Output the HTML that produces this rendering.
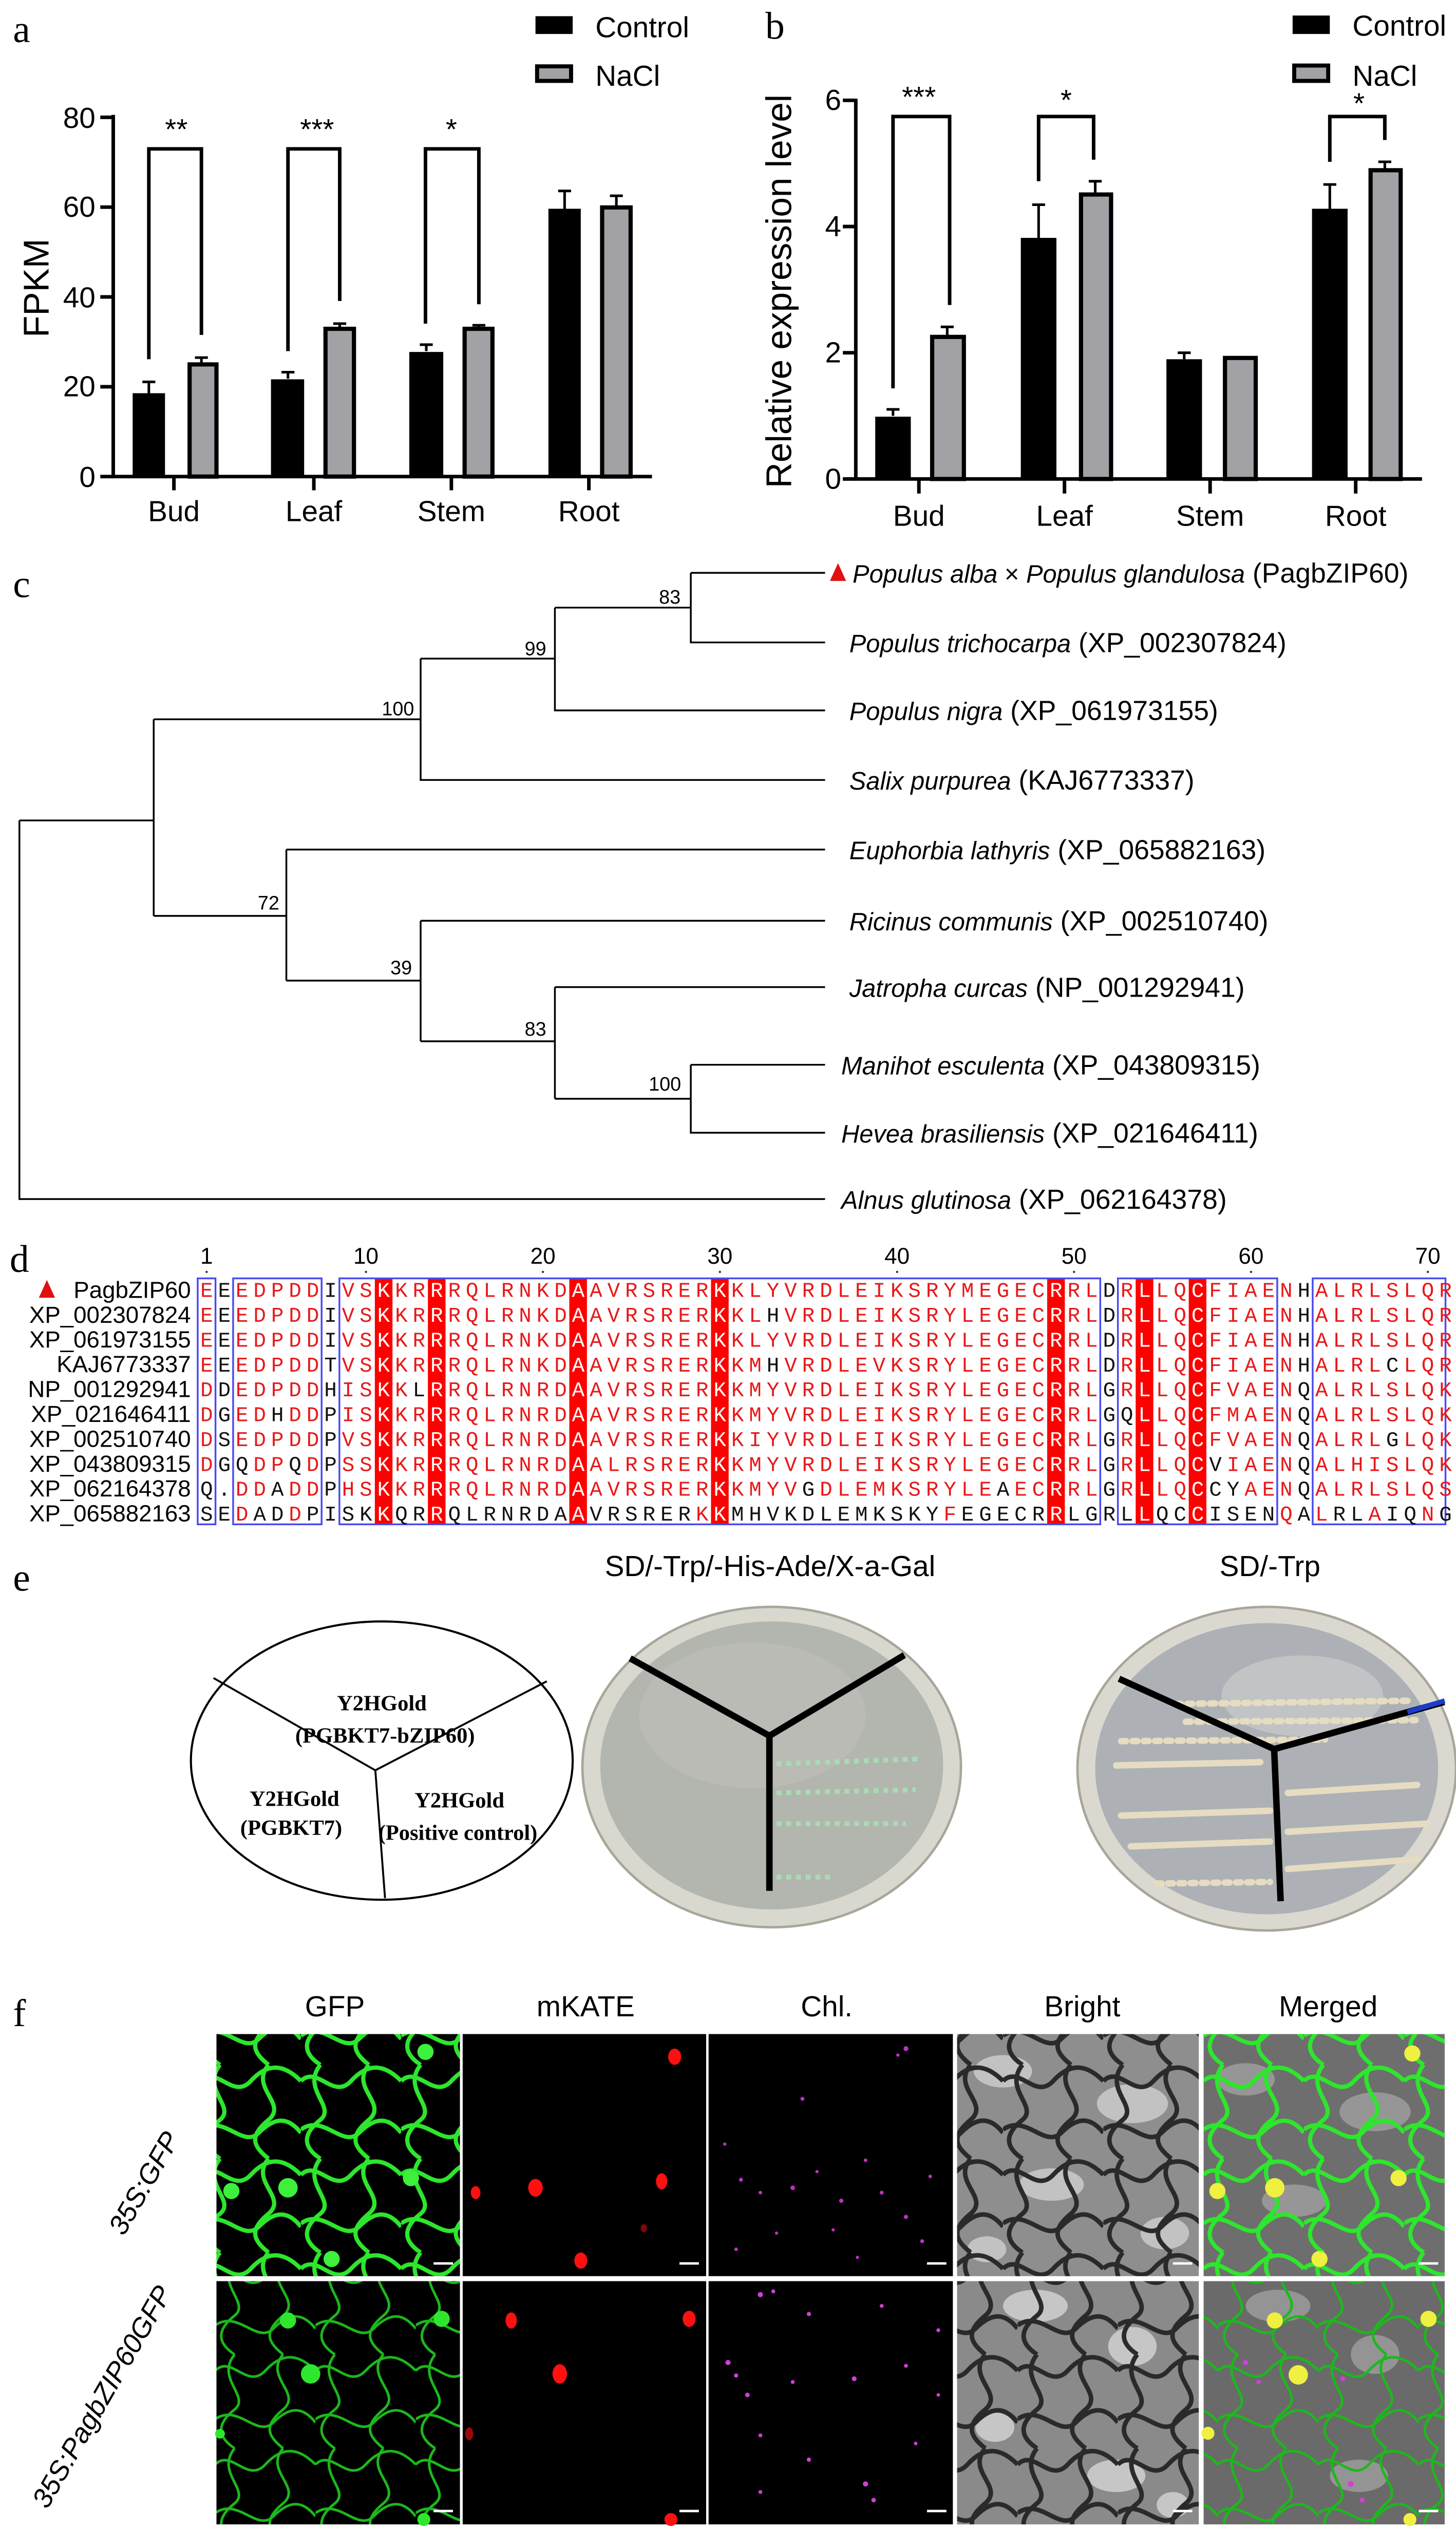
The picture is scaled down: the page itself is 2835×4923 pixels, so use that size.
<!DOCTYPE html>
<html><head><meta charset="utf-8">
<style>
html,body{margin:0;padding:0;background:#fff;}
svg{display:block;}
.sn{font-family:"Liberation Sans Narrow","Liberation Sans",sans-serif;}
.s{font-family:"Liberation Sans",sans-serif;}
.sf{font-family:"Liberation Serif",serif;}
.mono{font-family:"Liberation Mono",monospace;font-size:13px;letter-spacing:3.14px;fill:#e8191a;}
.k{fill:#111;}
.w{fill:#fff;}
</style></head>
<body>
<svg width="2835" height="4923" viewBox="0 0 900 1562.86" xmlns="http://www.w3.org/2000/svg">
<defs>
<pattern id="cellG" width="62" height="58" patternUnits="userSpaceOnUse">
<path d="M0,10 C10,0 20,22 31,10 S52,0 62,10 M12,0 C0,15 22,26 12,34 S0,50 12,58 M42,0 C30,14 54,24 42,34 S32,50 42,58 M0,40 C14,30 26,52 36,42 S54,32 62,42" fill="none" stroke="#2de62d" stroke-width="2.6"/>
</pattern>
<pattern id="cellG2" width="62" height="58" patternUnits="userSpaceOnUse" patternTransform="translate(9,5)">
<path d="M0,10 C10,0 20,22 31,10 S52,0 62,10 M12,0 C0,15 22,26 12,34 S0,50 12,58 M42,0 C30,14 54,24 42,34 S32,50 42,58 M0,40 C14,30 26,52 36,42 S54,32 62,42" fill="none" stroke="#1cb81c" stroke-width="1.6"/>
</pattern>
<pattern id="cellD" width="62" height="58" patternUnits="userSpaceOnUse">
<path d="M0,10 C10,0 20,22 31,10 S52,0 62,10 M12,0 C0,15 22,26 12,34 S0,50 12,58 M42,0 C30,14 54,24 42,34 S32,50 42,58 M0,40 C14,30 26,52 36,42 S54,32 62,42" fill="none" stroke="#2a2a2a" stroke-width="2.8"/>
</pattern>
<pattern id="cellD2" width="62" height="58" patternUnits="userSpaceOnUse" patternTransform="translate(9,5)">
<path d="M0,10 C10,0 20,22 31,10 S52,0 62,10 M12,0 C0,15 22,26 12,34 S0,50 12,58 M42,0 C30,14 54,24 42,34 S32,50 42,58 M0,40 C14,30 26,52 36,42 S54,32 62,42" fill="none" stroke="#2a2a2a" stroke-width="2.8"/>
</pattern>
</defs>

<!-- ===== Panel a ===== -->
<text x="8" y="26" class="sf" font-size="24">a</text>
<rect x="331" y="10" width="23" height="11" fill="#000"/>
<text x="368" y="23" class="sn" font-size="18">Control</text>
<rect x="332" y="41" width="21" height="9" fill="#a2a2a6" stroke="#000" stroke-width="2.5"/>
<text x="368" y="53" class="sn" font-size="18">NaCl</text>
<g stroke="#000" stroke-width="2.2" fill="none">
<line x1="70" y1="71" x2="70" y2="295.5"/>
<line x1="69" y1="294.5" x2="403" y2="294.5"/>
<line x1="62" y1="72.5" x2="70" y2="72.5"/><line x1="62" y1="128" x2="70" y2="128"/><line x1="62" y1="183.5" x2="70" y2="183.5"/><line x1="62" y1="239" x2="70" y2="239"/><line x1="62" y1="294.5" x2="70" y2="294.5"/>
<line x1="107.5" y1="294.5" x2="107.5" y2="303"/><line x1="194" y1="294.5" x2="194" y2="303"/><line x1="279" y1="294.5" x2="279" y2="303"/><line x1="364" y1="294.5" x2="364" y2="303"/>
</g>
<g class="sn" font-size="18" text-anchor="end">
<text x="59" y="79">80</text><text x="59" y="134">60</text><text x="59" y="190">40</text><text x="59" y="245">20</text><text x="59" y="301">0</text>
</g>
<g class="sn" font-size="18" text-anchor="middle">
<text x="107.5" y="322">Bud</text><text x="194" y="322">Leaf</text><text x="279" y="322">Stem</text><text x="364" y="322">Root</text>
</g>
<text transform="translate(30,178) rotate(-90)" class="s" font-size="22" text-anchor="middle">FPKM</text>
<g fill="#000">
<rect x="82" y="243" width="20" height="51.5"/><rect x="167.5" y="234.4" width="20.5" height="60"/><rect x="253" y="217.5" width="21" height="77"/><rect x="339" y="129" width="20" height="165.5"/>
</g>
<g fill="#a2a2a6" stroke="#000" stroke-width="2.6">
<rect x="117.2" y="225.2" width="16.6" height="69.3"/><rect x="201.2" y="203.2" width="17.6" height="91.3"/><rect x="287.2" y="203.2" width="17.2" height="91.3"/><rect x="372.2" y="128.2" width="17.6" height="166.3"/>
</g>
<g stroke="#000" stroke-width="1.6" fill="none">
<path d="M92,243V236M88,236H96"/><path d="M124.5,224V221M120.5,221H128.5"/>
<path d="M178,234V230M174,230H182"/><path d="M210,202V200M206,200H214"/>
<path d="M263.5,217V213M259.5,213H267.5"/><path d="M296,202V201M292,201H300"/>
<path d="M349,129V118M345,118H353"/><path d="M381,127V121M377,121H385"/>
</g>
<g stroke="#000" stroke-width="2.2" fill="none">
<path d="M92,222V92H124.5V207"/><path d="M178,217V92H210V186"/><path d="M263,200V92H296V188"/>
</g>
<g class="s" font-size="18" text-anchor="middle">
<text x="109" y="86">**</text><text x="196" y="86">***</text><text x="279" y="86">*</text>
</g>

<!-- ===== Panel b ===== -->
<text x="473" y="24" class="sf" font-size="24">b</text>
<rect x="799" y="9.6" width="23" height="11.4" fill="#000"/>
<text x="836" y="22" class="sn" font-size="18">Control</text>
<rect x="800" y="40.5" width="21" height="9.5" fill="#a2a2a6" stroke="#000" stroke-width="2.5"/>
<text x="836" y="53" class="sn" font-size="18">NaCl</text>
<g stroke="#000" stroke-width="2.2" fill="none">
<line x1="529" y1="61" x2="529" y2="297"/>
<line x1="528" y1="296" x2="879" y2="296"/>
<line x1="521" y1="62" x2="529" y2="62"/><line x1="521" y1="140" x2="529" y2="140"/><line x1="521" y1="218" x2="529" y2="218"/><line x1="521" y1="296" x2="529" y2="296"/>
<line x1="568" y1="296" x2="568" y2="305"/><line x1="658" y1="296" x2="658" y2="305"/><line x1="748" y1="296" x2="748" y2="305"/><line x1="838" y1="296" x2="838" y2="305"/>
</g>
<g class="sn" font-size="18" text-anchor="end">
<text x="520" y="68">6</text><text x="520" y="146">4</text><text x="520" y="224">2</text><text x="520" y="302">0</text>
</g>
<g class="sn" font-size="18" text-anchor="middle">
<text x="568" y="325">Bud</text><text x="658" y="325">Leaf</text><text x="748" y="325">Stem</text><text x="838" y="325">Root</text>
</g>
<text transform="translate(489,180) rotate(-90)" class="s" font-size="22" text-anchor="middle">Relative expression level</text>
<g fill="#000">
<rect x="541" y="257.5" width="22" height="38.5"/><rect x="631" y="147" width="22" height="149"/><rect x="721" y="222" width="22" height="74"/><rect x="811" y="129" width="22" height="167"/>
</g>
<g fill="#a2a2a6" stroke="#000" stroke-width="2.6">
<rect x="576.2" y="208.2" width="19.6" height="87.8"/><rect x="668.2" y="120.2" width="18.6" height="175.8"/><rect x="757.2" y="221.2" width="19" height="74.8"/><rect x="847.2" y="105.2" width="18.6" height="190.8"/>
</g>
<g stroke="#000" stroke-width="1.6" fill="none">
<path d="M552,257V253M548,253H556"/><path d="M585.5,207V202M581.5,202H589.5"/>
<path d="M642,147V126.5M638,126.5H646"/><path d="M677,119V112M673,112H681"/>
<path d="M732,222V218M728,218H736"/>
<path d="M822,129V114M818,114H826"/><path d="M856,104V100M852,100H860"/>
</g>
<g stroke="#000" stroke-width="2.2" fill="none">
<path d="M552,240V72H587V188.5"/><path d="M642,112V72H676V98.7"/><path d="M822,100V72H856V86.5"/>
</g>
<g class="s" font-size="18" text-anchor="middle">
<text x="568" y="66">***</text><text x="659" y="68">*</text><text x="840" y="70">*</text>
</g>

<!-- ===== Panel c (tree) ===== -->
<text x="8" y="369" class="sf" font-size="24">c</text>
<g stroke="#000" stroke-width="1.1" fill="none">
<path d="M12,507V741H510M12,507H95"/>
<path d="M95,444.5V566"/>
<path d="M95,444.5H260M260,407V482H510"/>
<path d="M260,407H343M343,375.5V439H510"/>
<path d="M343,375.5H427M427,354V397H510M427,354H510"/>
<path d="M95,566H177M177,525V606M177,525H510"/>
<path d="M177,606H260M260,569V643.5M260,569H510"/>
<path d="M260,643.5H343M343,610V679M343,610H510"/>
<path d="M343,679H427M427,658V700H510M427,658H510"/>
</g>
<g class="s" font-size="12" text-anchor="middle">
<text x="414" y="373">83</text><text x="331" y="405">99</text><text x="246" y="442">100</text>
<text x="166" y="562">72</text><text x="248" y="602">39</text><text x="331" y="640">83</text><text x="411" y="674">100</text>
</g>
<polygon points="513,359 518,348 523,359" fill="#e01010"/>
<g class="s" font-size="17">
<text x="527" y="360"><tspan font-style="italic" font-size="15.5">Populus alba</tspan><tspan font-size="15.5"> × </tspan><tspan font-style="italic" font-size="15.5">Populus glandulosa</tspan> (PagbZIP60)</text>
<text x="525" y="403"><tspan font-style="italic" font-size="15.5">Populus trichocarpa</tspan>  (XP_002307824)</text>
<text x="525" y="445"><tspan font-style="italic" font-size="15.5">Populus nigra</tspan>  (XP_061973155)</text>
<text x="525" y="488"><tspan font-style="italic" font-size="15.5">Salix purpurea</tspan>  (KAJ6773337)</text>
<text x="525" y="531"><tspan font-style="italic" font-size="15.5">Euphorbia lathyris</tspan>  (XP_065882163)</text>
<text x="525" y="575"><tspan font-style="italic" font-size="15.5">Ricinus communis</tspan>  (XP_002510740)</text>
<text x="525" y="616"><tspan font-style="italic" font-size="15.5">Jatropha curcas</tspan>  (NP_001292941)</text>
<text x="520" y="664"><tspan font-style="italic" font-size="15.5">Manihot esculenta</tspan>  (XP_043809315)</text>
<text x="520" y="706"><tspan font-style="italic" font-size="15.5">Hevea brasiliensis</tspan>  (XP_021646411)</text>
<text x="520" y="747"><tspan font-style="italic" font-size="15.5">Alnus glutinosa</tspan>  (XP_062164378)</text>
</g>

<!-- ===== Panel d (alignment) ===== -->
<text x="6" y="786" class="sf" font-size="24">d</text>
<g class="sn" font-size="14" text-anchor="middle">
<text x="127.7" y="781">1</text><text x="226.2" y="781">10</text><text x="335.6" y="781">20</text><text x="445" y="781">30</text><text x="554.5" y="781">40</text><text x="663.9" y="781">50</text><text x="773.3" y="781">60</text><text x="882.6" y="781">70</text>
</g>
<g fill="#333">
<circle cx="127.7" cy="786" r="0.7"/><circle cx="226.2" cy="786" r="0.7"/><circle cx="335.6" cy="786" r="0.7"/><circle cx="445" cy="786" r="0.7"/><circle cx="554.5" cy="786" r="0.7"/><circle cx="663.9" cy="786" r="0.7"/><circle cx="773.3" cy="786" r="0.7"/><circle cx="882.6" cy="786" r="0.7"/>
</g>
<g fill="#f00">
<rect x="231.7" y="790" width="10.9" height="152"/><rect x="264.5" y="790" width="10.9" height="152"/><rect x="351.9" y="790" width="10.9" height="152"/><rect x="439.5" y="790" width="10.9" height="152"/><rect x="647.3" y="790" width="10.9" height="152"/><rect x="702" y="790" width="10.9" height="152"/><rect x="734.8" y="790" width="10.9" height="152"/>
</g>
<g fill="none" stroke="#4a4af0" stroke-width="1.1">
<rect x="122.2" y="790" width="11" height="152"/><rect x="144.1" y="790" width="54.7" height="152"/><rect x="209.8" y="790" width="470.3" height="152"/><rect x="691" y="790" width="98.5" height="152"/><rect x="811.4" y="790" width="82.1" height="152"/>
</g>
<polygon points="24,802 29,791 34,802" fill="#e01010"/>
<g class="sn" font-size="14.5" text-anchor="end">
<text x="118" y="802">PagbZIP60</text>
<text x="118" y="817.4">XP_002307824</text>
<text x="118" y="832.7">XP_061973155</text>
<text x="118" y="848">KAJ6773337</text>
<text x="118" y="863.4">NP_001292941</text>
<text x="118" y="878.8">XP_021646411</text>
<text x="118" y="894.1">XP_002510740</text>
<text x="118" y="909.5">XP_043809315</text>
<text x="118" y="924.8">XP_062164378</text>
<text x="118" y="940.2">XP_065882163</text>
</g>
<g class="mono">
<text x="123.8" y="801.5">E<tspan class="k">E</tspan>EDPDD<tspan class="k">I</tspan>VS<tspan class="w">K</tspan>KR<tspan class="w">R</tspan>RQLRNKD<tspan class="w">A</tspan>AVRSRER<tspan class="w">K</tspan>KLYVRDLEIKSRYMEGEC<tspan class="w">R</tspan>RL<tspan class="k">D</tspan>R<tspan class="w">L</tspan>LQ<tspan class="w">C</tspan>FIAEN<tspan class="k">H</tspan>ALRLSLQR</text>
<text x="123.8" y="816.9">E<tspan class="k">E</tspan>EDPDD<tspan class="k">I</tspan>VS<tspan class="w">K</tspan>KR<tspan class="w">R</tspan>RQLRNKD<tspan class="w">A</tspan>AVRSRER<tspan class="w">K</tspan>KL<tspan class="k">H</tspan>VRDLEIKSRYLEGEC<tspan class="w">R</tspan>RL<tspan class="k">D</tspan>R<tspan class="w">L</tspan>LQ<tspan class="w">C</tspan>FIAEN<tspan class="k">H</tspan>ALRLSLQR</text>
<text x="123.8" y="832.2">E<tspan class="k">E</tspan>EDPDD<tspan class="k">I</tspan>VS<tspan class="w">K</tspan>KR<tspan class="w">R</tspan>RQLRNKD<tspan class="w">A</tspan>AVRSRER<tspan class="w">K</tspan>KLYVRDLEIKSRYLEGEC<tspan class="w">R</tspan>RL<tspan class="k">D</tspan>R<tspan class="w">L</tspan>LQ<tspan class="w">C</tspan>FIAEN<tspan class="k">H</tspan>ALRLSLQR</text>
<text x="123.8" y="847.6">E<tspan class="k">E</tspan>EDPDD<tspan class="k">T</tspan>VS<tspan class="w">K</tspan>KR<tspan class="w">R</tspan>RQLRNKD<tspan class="w">A</tspan>AVRSRER<tspan class="w">K</tspan>KM<tspan class="k">H</tspan>VRDLEVKSRYLEGEC<tspan class="w">R</tspan>RL<tspan class="k">D</tspan>R<tspan class="w">L</tspan>LQ<tspan class="w">C</tspan>FIAEN<tspan class="k">H</tspan>ALRL<tspan class="k">C</tspan>LQR</text>
<text x="123.8" y="862.9">D<tspan class="k">D</tspan>EDPDD<tspan class="k">H</tspan>IS<tspan class="w">K</tspan>K<tspan class="k">L</tspan><tspan class="w">R</tspan>RQLRNRD<tspan class="w">A</tspan>AVRSRER<tspan class="w">K</tspan>KMYVRDLEIKSRYLEGEC<tspan class="w">R</tspan>RL<tspan class="k">G</tspan>R<tspan class="w">L</tspan>LQ<tspan class="w">C</tspan>FVAEN<tspan class="k">Q</tspan>ALRLSLQK</text>
<text x="123.8" y="878.3">D<tspan class="k">G</tspan>ED<tspan class="k">H</tspan>DD<tspan class="k">P</tspan>IS<tspan class="w">K</tspan>KR<tspan class="w">R</tspan>RQLRNRD<tspan class="w">A</tspan>AVRSRER<tspan class="w">K</tspan>KMYVRDLEIKSRYLEGEC<tspan class="w">R</tspan>RL<tspan class="k">GQ</tspan><tspan class="w">L</tspan>LQ<tspan class="w">C</tspan>FMAEN<tspan class="k">Q</tspan>ALRLSLQK</text>
<text x="123.8" y="893.6">D<tspan class="k">S</tspan>EDPDD<tspan class="k">P</tspan>VS<tspan class="w">K</tspan>KR<tspan class="w">R</tspan>RQLRNRD<tspan class="w">A</tspan>AVRSRER<tspan class="w">K</tspan>KIYVRDLEIKSRYLEGEC<tspan class="w">R</tspan>RL<tspan class="k">G</tspan>R<tspan class="w">L</tspan>LQ<tspan class="w">C</tspan>FVAEN<tspan class="k">Q</tspan>ALRL<tspan class="k">G</tspan>LQK</text>
<text x="123.8" y="909">D<tspan class="k">GQ</tspan>DP<tspan class="k">Q</tspan>D<tspan class="k">P</tspan>SS<tspan class="w">K</tspan>KR<tspan class="w">R</tspan>RQLRNRD<tspan class="w">A</tspan>ALRSRER<tspan class="w">K</tspan>KMYVRDLEIKSRYLEGEC<tspan class="w">R</tspan>RL<tspan class="k">G</tspan>R<tspan class="w">L</tspan>LQ<tspan class="w">C</tspan><tspan class="k">V</tspan>IAEN<tspan class="k">Q</tspan>ALHISLQK</text>
<text x="123.8" y="924.3"><tspan class="k">Q.</tspan>DD<tspan class="k">A</tspan>DD<tspan class="k">P</tspan>HS<tspan class="w">K</tspan>KR<tspan class="w">R</tspan>RQLRNRD<tspan class="w">A</tspan>AVRSRER<tspan class="w">K</tspan>KMYV<tspan class="k">G</tspan>DLEMKSRYLE<tspan class="k">A</tspan>EC<tspan class="w">R</tspan>RL<tspan class="k">G</tspan>R<tspan class="w">L</tspan>LQ<tspan class="w">C</tspan><tspan class="k">CY</tspan>AEN<tspan class="k">Q</tspan>ALRLSLQS</text>
<text x="123.8" y="939.7"><tspan class="k">SE</tspan>D<tspan class="k">AD</tspan>D<tspan class="k">PISK</tspan><tspan class="w">K</tspan><tspan class="k">QR</tspan><tspan class="w">R</tspan><tspan class="k">QLRNRDA</tspan><tspan class="w">A</tspan><tspan class="k">VRSRER</tspan>K<tspan class="w">K</tspan><tspan class="k">MHVKDLEMKSKY</tspan>F<tspan class="k">EGECR</tspan><tspan class="w">R</tspan><tspan class="k">LGRL</tspan><tspan class="w">L</tspan><tspan class="k">QC</tspan><tspan class="w">C</tspan><tspan class="k">ISEN</tspan>Q<tspan class="k">A</tspan>L<tspan class="k">RL</tspan>A<tspan class="k">IQ</tspan>N<tspan class="k">G</tspan></text>
</g>

<!-- ===== Panel e ===== -->
<text x="8" y="983" class="sf" font-size="24">e</text>
<g class="sn" font-size="18" text-anchor="middle">
<text x="476" y="974">SD/-Trp/-His-Ade/X-a-Gal</text>
<text x="785" y="974">SD/-Trp</text>
</g>
<ellipse cx="236" cy="1088" rx="118" ry="86" fill="#fff" stroke="#000" stroke-width="1.3"/>
<path d="M132,1037L232,1094L338,1039M232,1094L238,1173" stroke="#000" stroke-width="1.2" fill="none"/>
<g class="sf" font-size="13.5" text-anchor="middle" font-weight="bold">
<text x="236" y="1057">Y2HGold</text>
<text x="238" y="1077">(PGBKT7-bZIP60)</text>
<text x="182" y="1116">Y2HGold</text>
<text x="180" y="1134">(PGBKT7)</text>
<text x="284" y="1117">Y2HGold</text>
<text x="283" y="1137">(Positive control)</text>
</g>
<!-- plate 1 -->
<ellipse cx="477" cy="1092" rx="117" ry="99" fill="#d9d8ce" stroke="#a8a69a" stroke-width="1.5"/>
<ellipse cx="477" cy="1091" rx="106" ry="89" fill="#b3b6af"/>
<ellipse cx="465" cy="1060" rx="70" ry="45" fill="#bcbeb8" opacity="0.6"/>
<g stroke="#a8dcb4" stroke-width="3" stroke-dasharray="3 3" fill="none">
<line x1="480" y1="1090" x2="568" y2="1087"/><line x1="480" y1="1108" x2="566" y2="1106"/><line x1="480" y1="1127" x2="560" y2="1127"/><line x1="480" y1="1160" x2="515" y2="1160"/>
</g>
<path d="M389.5,1024.8L475.6,1072.7L559,1022.8M475.6,1072.7V1168.5" stroke="#000" stroke-width="4" fill="none"/>
<!-- plate 2 -->
<ellipse cx="783" cy="1093" rx="117" ry="100" fill="#dbd9cf" stroke="#a8a69a" stroke-width="1.5"/>
<ellipse cx="783" cy="1093" rx="106" ry="90" fill="#adb1b6"/>
<ellipse cx="805" cy="1048" rx="50" ry="25" fill="#cfcfcd" opacity="0.6"/>
<g stroke="#e6dcc2" stroke-width="4" stroke-linecap="round" fill="none">
<line x1="727" y1="1053" x2="871" y2="1051" stroke-dasharray="3 4"/>
<line x1="733" y1="1064" x2="875" y2="1063" stroke-dasharray="3 4"/>
<line x1="693" y1="1076" x2="819" y2="1075" stroke-dasharray="3 4"/>
<line x1="690" y1="1091" x2="779" y2="1089"/>
<line x1="796" y1="1108" x2="876" y2="1103"/>
<line x1="693" y1="1122" x2="785" y2="1119"/>
<line x1="796" y1="1132" x2="882" y2="1127"/>
<line x1="699" y1="1141" x2="785" y2="1138"/>
<line x1="796" y1="1155" x2="876" y2="1149"/>
<line x1="715" y1="1164" x2="785" y2="1163" stroke-dasharray="3 4"/>
</g>
<path d="M691.7,1037.4L787.6,1080.9L892.7,1051.8M787.6,1080.9L791.6,1174.9" stroke="#000" stroke-width="4" fill="none"/>
<path d="M870,1058L893,1051" stroke="#1a3ccf" stroke-width="3"/>

<!-- ===== Panel f ===== -->
<text x="8" y="1252" class="sf" font-size="24">f</text>
<g class="sn" font-size="18" text-anchor="middle">
<text x="207" y="1246">GFP</text><text x="362" y="1246">mKATE</text><text x="511" y="1246">Chl.</text><text x="669" y="1246">Bright</text><text x="821" y="1246">Merged</text>
</g>
<text transform="translate(94,1352) rotate(-60)" class="s" font-size="17" font-style="italic" text-anchor="middle">35S:GFP</text>
<text transform="translate(68,1484) rotate(-60)" class="s" font-size="17" font-style="italic" text-anchor="middle">35S:PagbZIP60GFP</text>

<!-- row 1 -->
<rect x="133.8" y="1257" width="150.5" height="149.6" fill="#000"/>
<rect x="133.8" y="1257" width="150.5" height="149.6" fill="url(#cellG)"/>
<g fill="#3cf03c"><circle cx="263" cy="1268" r="5"/><circle cx="178" cy="1352" r="6"/><circle cx="143" cy="1354" r="5"/><circle cx="254" cy="1346" r="5"/><circle cx="205" cy="1396" r="5"/></g>
<rect x="286" y="1257" width="150.5" height="149.6" fill="#000"/>
<g fill="#ff1010"><ellipse cx="417" cy="1271" rx="4" ry="5"/><ellipse cx="331" cy="1352" rx="4.5" ry="5.5"/><ellipse cx="294" cy="1355" rx="3" ry="4"/><ellipse cx="409" cy="1348" rx="3.5" ry="5"/><ellipse cx="359" cy="1397" rx="4" ry="5"/><ellipse cx="398" cy="1377" rx="2" ry="2.5" opacity="0.5"/></g>
<rect x="438" y="1257" width="151" height="149.6" fill="#000"/>
<g fill="#c030c8"><circle cx="560" cy="1266" r="1.5"/><circle cx="555" cy="1270" r="1"/><circle cx="496" cy="1297" r="1.2"/><circle cx="448" cy="1325" r="1"/><circle cx="458" cy="1347" r="1.2"/><circle cx="470" cy="1355" r="1.1"/><circle cx="490" cy="1352" r="1.4"/><circle cx="505" cy="1342" r="1"/><circle cx="520" cy="1360" r="1.3"/><circle cx="535" cy="1335" r="1.1"/><circle cx="545" cy="1355" r="1.2"/><circle cx="560" cy="1370" r="1.3"/><circle cx="575" cy="1345" r="1.1"/><circle cx="515" cy="1378" r="1"/><circle cx="480" cy="1380" r="1"/><circle cx="455" cy="1390" r="1.1"/><circle cx="530" cy="1395" r="1"/><circle cx="570" cy="1385" r="1.2"/></g>
<rect x="591.6" y="1257" width="149.4" height="149.6" fill="#8e8e8e"/>
<g fill="#d8d8d8" opacity="0.7"><ellipse cx="620" cy="1280" rx="18" ry="10"/><ellipse cx="700" cy="1300" rx="22" ry="12"/><ellipse cx="650" cy="1350" rx="20" ry="10"/><ellipse cx="720" cy="1380" rx="15" ry="10"/><ellipse cx="610" cy="1390" rx="12" ry="8"/></g>
<rect x="591.6" y="1257" width="149.4" height="149.6" fill="url(#cellD)"/>
<rect x="744" y="1257" width="149" height="149.6" fill="#6e6e6e"/>
<g fill="#b0b0b0" opacity="0.6"><ellipse cx="770" cy="1285" rx="18" ry="10"/><ellipse cx="850" cy="1305" rx="22" ry="12"/><ellipse cx="800" cy="1360" rx="20" ry="10"/></g>
<rect x="744" y="1257" width="149" height="149.6" fill="url(#cellG)"/>
<g fill="#f0f040"><circle cx="873" cy="1269" r="5"/><circle cx="788" cy="1352" r="6"/><circle cx="752.5" cy="1354" r="5"/><circle cx="864.5" cy="1346" r="5"/><circle cx="815.6" cy="1396" r="5"/></g>

<!-- row 2 -->
<rect x="133.8" y="1409.7" width="150.5" height="150.3" fill="#000"/>
<rect x="133.8" y="1409.7" width="150.5" height="150.3" fill="url(#cellG2)"/>
<g fill="#2ee62e"><circle cx="178" cy="1434" r="5"/><circle cx="273" cy="1433" r="5"/><circle cx="192" cy="1467" r="6"/><circle cx="136" cy="1504" r="3"/><circle cx="262" cy="1557" r="4"/></g>
<rect x="286" y="1409.7" width="150.5" height="150.3" fill="#000"/>
<g fill="#ff1010"><ellipse cx="316" cy="1434" rx="3.5" ry="5"/><ellipse cx="426" cy="1433" rx="4" ry="5"/><ellipse cx="346" cy="1467" rx="4.5" ry="6"/><ellipse cx="290" cy="1504" rx="2.5" ry="4" opacity="0.6"/><ellipse cx="414.7" cy="1557" rx="4" ry="4"/></g>
<rect x="438" y="1409.7" width="151" height="150.3" fill="#000"/>
<g fill="#d040d8"><circle cx="470" cy="1418" r="1.6"/><circle cx="478" cy="1416" r="1.2"/><circle cx="500" cy="1430" r="1.3"/><circle cx="545" cy="1425" r="1.2"/><circle cx="580" cy="1440" r="1.2"/><circle cx="450" cy="1460" r="1.6"/><circle cx="455" cy="1468" r="1.3"/><circle cx="462" cy="1480" r="1.4"/><circle cx="490" cy="1472" r="1.2"/><circle cx="528" cy="1470" r="1.5"/><circle cx="560" cy="1462" r="1.2"/><circle cx="580" cy="1480" r="1.1"/><circle cx="470" cy="1505" r="1.2"/><circle cx="500" cy="1520" r="1.3"/><circle cx="535" cy="1535" r="1.6"/><circle cx="540" cy="1545" r="1.4"/><circle cx="470" cy="1540" r="1.2"/><circle cx="566" cy="1510" r="1.1"/></g>
<rect x="591.6" y="1409.7" width="149.4" height="150.3" fill="#8a8a8a"/>
<g fill="#e0e0e0" opacity="0.7"><ellipse cx="640" cy="1425" rx="20" ry="10"/><ellipse cx="700" cy="1450" rx="15" ry="12"/><ellipse cx="615" cy="1500" rx="12" ry="9"/><ellipse cx="690" cy="1530" rx="18" ry="10"/><ellipse cx="725" cy="1548" rx="10" ry="8"/></g>
<rect x="591.6" y="1409.7" width="149.4" height="150.3" fill="url(#cellD2)"/>
<rect x="744" y="1409.7" width="149" height="150.3" fill="#6a6a6a"/>
<g fill="#b0b0b0" opacity="0.6"><ellipse cx="790" cy="1425" rx="20" ry="10"/><ellipse cx="850" cy="1455" rx="15" ry="12"/><ellipse cx="840" cy="1530" rx="18" ry="10"/></g>
<rect x="744" y="1409.7" width="149" height="150.3" fill="url(#cellG2)"/>
<g fill="#d040d8"><circle cx="770" cy="1460" r="1.6"/><circle cx="778" cy="1472" r="1.4"/><circle cx="830" cy="1470" r="1.5"/><circle cx="835" cy="1535" r="1.8"/><circle cx="842" cy="1545" r="1.5"/></g>
<g fill="#f0f040"><circle cx="788" cy="1434" r="5"/><circle cx="883" cy="1433" r="5"/><circle cx="802.5" cy="1467.6" r="6"/><circle cx="746.7" cy="1503.7" r="4"/><circle cx="871.5" cy="1557" r="4"/></g>

<!-- scale bars -->
<g fill="#fff">
<rect x="268" y="1398" width="12" height="1.5"/><rect x="420" y="1398" width="12" height="1.5"/><rect x="573" y="1398" width="12" height="1.5"/><rect x="725" y="1398" width="12" height="1.5"/><rect x="877" y="1398" width="12" height="1.5"/>
<rect x="268" y="1551" width="12" height="1.5"/><rect x="420" y="1551" width="12" height="1.5"/><rect x="573" y="1551" width="12" height="1.5"/><rect x="725" y="1551" width="12" height="1.5"/><rect x="877" y="1551" width="12" height="1.5"/>
</g>
</svg>
</body></html>
